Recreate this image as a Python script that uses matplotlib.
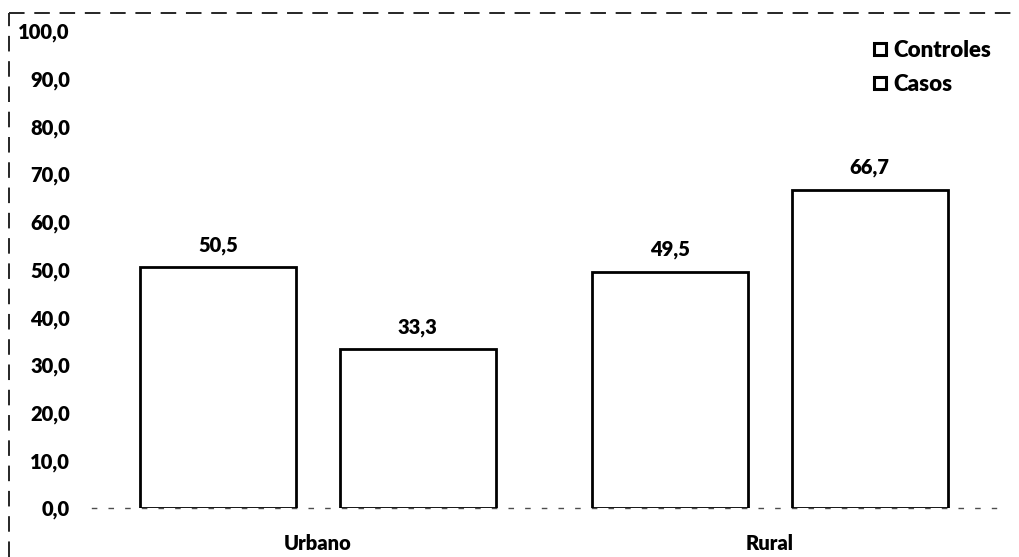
import matplotlib
matplotlib.use("Agg")
import matplotlib.pyplot as plt
from matplotlib.lines import Line2D
import numpy as np

categories = ["Urbano", "Rural"]
series_names = ["Controles", "Casos"]
controles = [50.5, 49.5]
casos = [33.3, 66.7]
y_ticks = [0, 10, 20, 30, 40, 50, 60, 70, 80, 90, 100]

plt.rcParams["font.family"] = ["Lato", "DejaVu Sans"]
WEIGHT = "heavy"
FS = 14.5

fig = plt.figure(figsize=(10.19, 5.57), dpi=100)
ax = fig.add_axes([0.0903, 0.088, 0.887, 0.856])

x = np.arange(len(categories))
width = 0.345
offset = 0.221

def fmt(v):
    return f"{v:.1f}".replace(".", ",")

for vals, sign in ((controles, -1), (casos, 1)):
    bars = ax.bar(x + sign * offset, vals, width, facecolor="white",
                  edgecolor="black", linewidth=2.0, zorder=3)
    for b, v in zip(bars, vals):
        ax.annotate(fmt(v), (b.get_x() + b.get_width() / 2, v),
                    xytext=(0, 9), textcoords="offset points",
                    ha="center", va="bottom", fontsize=FS, fontweight=WEIGHT)

ax.set_xlim(-0.5, 1.5)
ax.set_ylim(0, 100)
ax.set_yticks(y_ticks)
ax.set_yticklabels([fmt(v) for v in y_ticks], fontsize=FS, fontweight=WEIGHT)
ax.set_xticks(x)
ax.set_xticklabels(categories, fontsize=FS, fontweight=WEIGHT)
ax.tick_params(axis="y", length=0, pad=16)
ax.tick_params(axis="x", length=0, pad=19)

for s in ("top", "right", "left"):
    ax.spines[s].set_visible(False)
ax.spines["bottom"].set_linestyle((0, (3, 9)))
ax.spines["bottom"].set_color("0.3")
ax.spines["bottom"].set_linewidth(1.0)

handles = [Line2D([], [], marker="s", linestyle="none", markersize=8,
                  markerfacecolor="white", markeredgecolor="black",
                  markeredgewidth=2.2) for _ in series_names]
leg = ax.legend(handles, series_names, loc="upper right",
                bbox_to_anchor=(1.017, 1.023), frameon=False,
                prop={"size": 16, "weight": WEIGHT},
                handlelength=0.6, handletextpad=0.3, labelspacing=0.58)

# Dashed frame along the top and left of the figure
fig.add_artist(Line2D([0.009, 1.0], [0.977, 0.977], transform=fig.transFigure,
                      color="0.15", linewidth=1.4, linestyle=(0, (8, 5))))
fig.add_artist(Line2D([0.009, 0.009], [0.0, 0.977], transform=fig.transFigure,
                      color="0.15", linewidth=1.4, linestyle=(0, (8, 5))))

fig.savefig("out.png", dpi=100, facecolor="white")
